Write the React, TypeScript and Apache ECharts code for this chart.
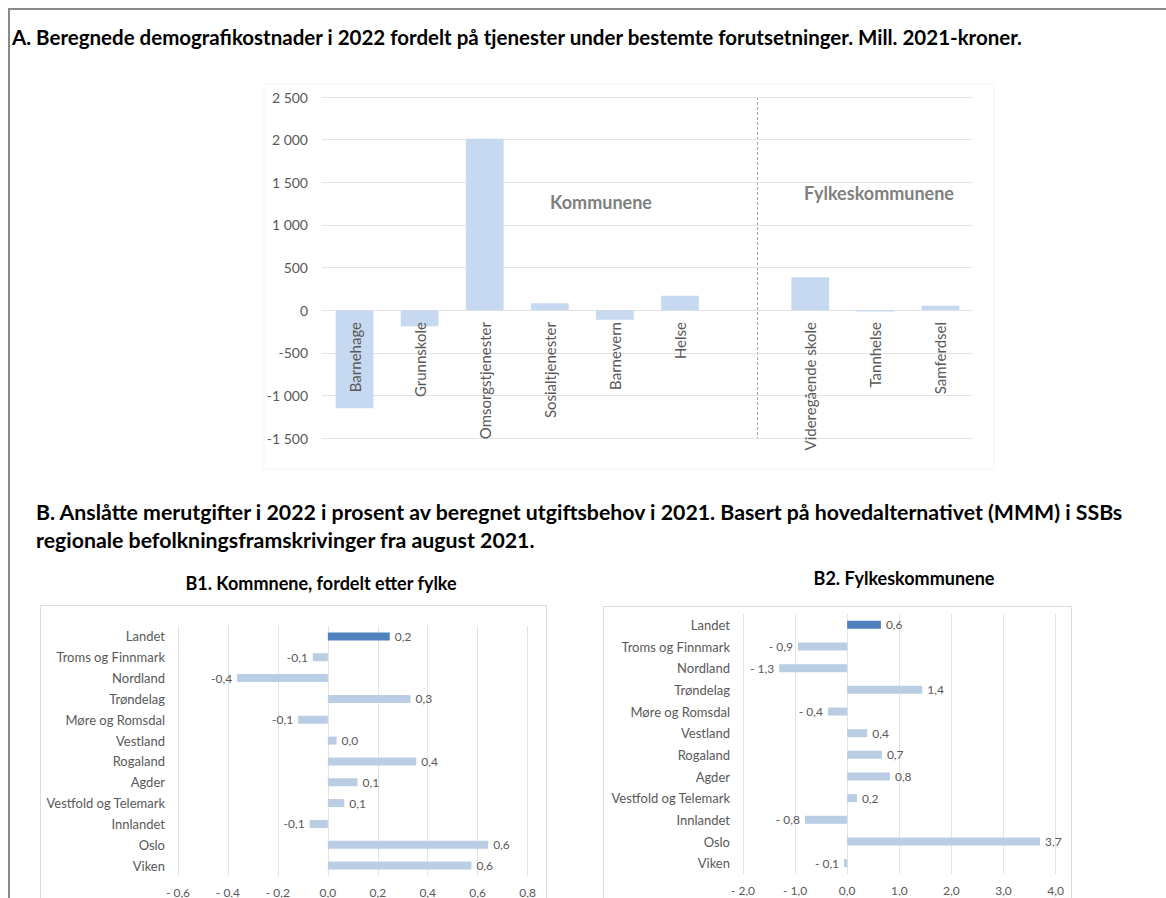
import React, { useEffect, useRef } from "react";
import * as echarts from "echarts";

const servicesA = [
  "Barnehage",
  "Grunnskole",
  "Omsorgstjenester",
  "Sosialtjenester",
  "Barnevern",
  "Helse",
  "",
  "Videregående skole",
  "Tannhelse",
  "Samferdsel",
];
const valuesA: (number | null)[] = [-1152, -190, 2010, 82, -112, 168, null, 385, -15, 51];
const ticksA = { min: -1500, max: 2500, interval: 500 };

const regions = [
  "Landet",
  "Troms og Finnmark",
  "Nordland",
  "Trøndelag",
  "Møre og Romsdal",
  "Vestland",
  "Rogaland",
  "Agder",
  "Vestfold og Telemark",
  "Innlandet",
  "Oslo",
  "Viken",
];
const valuesB1 = [0.248, -0.06, -0.363, 0.331, -0.119, 0.035, 0.354, 0.119, 0.066, -0.073, 0.642, 0.575];
const valuesB2 = [0.647, -0.946, -1.305, 1.44, -0.37, 0.384, 0.666, 0.82, 0.186, -0.81, 3.7, -0.06];
const ticksB1 = { min: -0.6, max: 0.8, interval: 0.2 };
const ticksB2 = { min: -2, max: 4, interval: 1 };

const FONT = "Lato";
const TXT = "#595959";
const GRID = "#e4e4e4";

function fmtThousand(v: number) {
  const s = Math.abs(v).toString().replace(/\B(?=(\d{3})+(?!\d))/g, " ");
  return (v < 0 ? "-" : "") + s;
}
function fmtComma(v: number, spaced: boolean) {
  const r = Math.round(v * 10) / 10;
  const s = Math.abs(r).toFixed(1).replace(".", ",");
  if (r < 0 || (v < 0 && r === 0)) return (spaced ? "- " : "-") + s;
  return s;
}

export default function App() {
  const ref = useRef<HTMLDivElement>(null);
  useEffect(() => {
    if (!ref.current) return;
    const chart = echarts.init(ref.current, undefined, { renderer: "svg" });

    const barData = (vals: number[], spaced: boolean) =>
      vals.map((v, i) => ({
        value: v,
        itemStyle: { color: i === 0 ? "#4f81bd" : "#b9cde5" },
        label: {
          show: true,
          position: v < 0 ? "left" : "right",
          distance: 5,
          formatter: () => fmtComma(v, spaced),
          color: TXT,
          fontFamily: FONT,
          fontSize: 12,
        },
      }));

    chart.setOption({
      animation: false,
      backgroundColor: "#ffffff",
      textStyle: { fontFamily: FONT },
      title: [
        {
          text: "A. Beregnede demografikostnader i 2022 fordelt på tjenester under bestemte forutsetninger. Mill. 2021-kroner.",
          left: 12,
          top: 26,
          padding: 0,
          textStyle: { fontFamily: FONT, fontWeight: "bold", fontSize: 20.5, color: "#000" },
        },
        {
          text: "B. Anslåtte merutgifter i 2022 i prosent av beregnet utgiftsbehov i 2021. Basert på hovedalternativet (MMM) i SSBs\nregionale befolkningsframskrivinger fra august 2021.",
          left: 36,
          top: 498,
          padding: 0,
          textStyle: { fontFamily: FONT, fontWeight: "bold", fontSize: 21.3, color: "#000", lineHeight: 28 },
        },
        {
          text: "B1. Kommnene, fordelt etter fylke",
          left: 321,
          textAlign: "center",
          top: 574,
          padding: 0,
          textStyle: { fontFamily: FONT, fontWeight: "bold", fontSize: 18, color: "#000" },
        },
        {
          text: "B2. Fylkeskommunene",
          left: 904,
          textAlign: "center",
          top: 569,
          padding: 0,
          textStyle: { fontFamily: FONT, fontWeight: "bold", fontSize: 18, color: "#000" },
        },
      ],
      grid: [
        { left: 322, top: 97, width: 651, height: 341 },
        { left: 178, top: 626, width: 349.6, height: 252 },
        { left: 743, top: 614, width: 312.6, height: 260 },
      ],
      xAxis: [
        {
          type: "category",
          gridIndex: 0,
          data: servicesA,
          position: "bottom",
          offset: -128,
          z: 10,
          axisLine: { show: false, onZero: false },
          axisTick: { show: false },
          axisLabel: {
            rotate: 90,
            interval: 0,
            fontSize: 15,
            color: TXT,
            fontFamily: FONT,
            margin: 12,
            showMinLabel: true,
            showMaxLabel: true,
            hideOverlap: false,
          },
        },
        {
          type: "value",
          gridIndex: 1,
          ...ticksB1,
          axisLine: { show: false },
          axisTick: { show: false },
          splitLine: { show: true, lineStyle: { color: GRID } },
          axisLabel: { fontSize: 12, color: TXT, fontFamily: FONT, margin: 10, formatter: (v: number) => fmtComma(v, true) },
        },
        {
          type: "value",
          gridIndex: 2,
          ...ticksB2,
          axisLine: { show: false },
          axisTick: { show: false },
          splitLine: { show: true, lineStyle: { color: GRID } },
          axisLabel: { fontSize: 12, color: TXT, fontFamily: FONT, margin: 10, formatter: (v: number) => fmtComma(v, true) },
        },
      ],
      yAxis: [
        {
          type: "value",
          gridIndex: 0,
          ...ticksA,
          axisLine: { show: false },
          axisTick: { show: false },
          splitLine: { show: true, lineStyle: { color: GRID } },
          axisLabel: { fontSize: 14, color: TXT, fontFamily: FONT, margin: 14, formatter: (v: number) => fmtThousand(v) },
        },
        {
          type: "category",
          gridIndex: 1,
          data: regions,
          inverse: true,
          axisLine: { show: false },
          axisTick: { show: false },
          axisLabel: { fontSize: 13, color: TXT, fontFamily: FONT, margin: 13 },
        },
        {
          type: "category",
          gridIndex: 2,
          data: regions,
          inverse: true,
          axisLine: { show: false },
          axisTick: { show: false },
          axisLabel: { fontSize: 13, color: TXT, fontFamily: FONT, margin: 13 },
        },
      ],
      series: [
        {
          type: "bar",
          xAxisIndex: 0,
          yAxisIndex: 0,
          data: valuesA,
          barWidth: "58%",
          itemStyle: { color: "#c6d9f1" },
        },
        {
          type: "bar",
          xAxisIndex: 1,
          yAxisIndex: 1,
          data: barData(valuesB1, false),
          barWidth: 8,
        },
        {
          type: "bar",
          xAxisIndex: 2,
          yAxisIndex: 2,
          data: barData(valuesB2, true),
          barWidth: 8,
        },
      ],
      graphic: [
        { type: "line", shape: { x1: 8, y1: 9, x2: 1166, y2: 9 }, style: { stroke: "#8a8a8a", lineWidth: 2 } },
        { type: "line", shape: { x1: 9, y1: 8, x2: 9, y2: 898 }, style: { stroke: "#8a8a8a", lineWidth: 2 } },
        { type: "rect", shape: { x: 264, y: 84, width: 730, height: 385 }, style: { fill: "none", stroke: "#f3f3f3", lineWidth: 1 } },
        { type: "rect", shape: { x: 40.5, y: 605.5, width: 506, height: 300 }, style: { fill: "none", stroke: "#dcdcdc", lineWidth: 1 } },
        { type: "rect", shape: { x: 603.5, y: 606.5, width: 468, height: 300 }, style: { fill: "none", stroke: "#dcdcdc", lineWidth: 1 } },
        {
          type: "line",
          shape: { x1: 757.5, y1: 97, x2: 757.5, y2: 438 },
          style: { stroke: "#a6a6a6", lineWidth: 1, lineDash: [3, 2] },
        },
        {
          type: "text",
          x: 601,
          y: 202,
          style: { text: "Kommunene", fill: "#7f7f7f", font: `bold 18px ${FONT}`, textAlign: "center", textVerticalAlign: "middle" },
        },
        {
          type: "text",
          x: 879,
          y: 193,
          style: { text: "Fylkeskommunene", fill: "#7f7f7f", font: `bold 18px ${FONT}`, textAlign: "center", textVerticalAlign: "middle" },
        },
      ],
    });
    return () => chart.dispose();
  }, []);
  return <div ref={ref} style={{ position: "absolute", left: 0, top: 0, width: 1166, height: 898 }} />;
}
